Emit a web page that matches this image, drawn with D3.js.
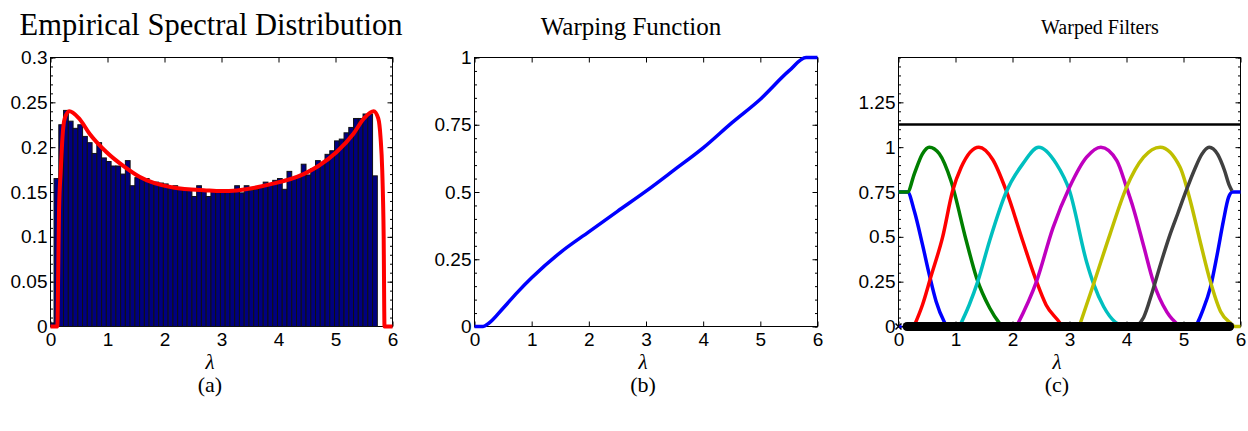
<!DOCTYPE html>
<html>
<head>
<meta charset="utf-8">
<script src="https://cdn.jsdelivr.net/npm/d3@7"></script>
<style>
  body { margin: 0; background: #fff; }
  .tick text { font-family: "Liberation Sans", Arial, sans-serif; font-size: 19px; fill: #000; }
  .serif { font-family: "Liberation Serif", "Times New Roman", serif; fill: #000; }
</style>
</head>
<body>
<div id="chart"></div>
<script>
// ---- data ----
var titles = ["Empirical Spectral Distribution", "Warping Function", "Warped Filters"];
var captions = ["(a)", "(b)", "(c)"];
var xTicks = [0, 1, 2, 3, 4, 5, 6];
var yTicksA = [0, 0.05, 0.1, 0.15, 0.2, 0.25, 0.3];
var yTicksB = [0, 0.25, 0.5, 0.75, 1];
var yTicksC = [0, 0.25, 0.5, 0.75, 1, 1.25];

// histogram (a): first bin left edge, bin width, heights
var histStart = -0.021;
var histWidth = 0.0834;
var histHeights = [0.004, 0,
  0.165, 0.225, 0.241, 0.229, 0.221, 0.225, 0.212, 0.205, 0.193, 0.205,
  0.188, 0.184, 0.179, 0.179, 0.170, 0.185, 0.157, 0.166, 0.165, 0.165,
  0.161, 0.161, 0.160, 0.159, 0.156, 0.157, 0.153, 0.152, 0.152, 0.145,
  0.157, 0.151, 0.145, 0.151, 0.150, 0.150, 0.150, 0.151, 0.157, 0.149,
  0.157, 0.152, 0.153, 0.155, 0.161, 0.158, 0.163, 0.165, 0.153, 0.173,
  0.166, 0.167, 0.181, 0.169, 0.176, 0.185, 0.182, 0.192, 0.196, 0.207,
  0.209, 0.216, 0.222, 0.232, 0.232, 0.237, 0.237, 0.168];

// spectral density (red curve)
var densX = [0, 0.12, 0.135, 0.15, 0.18, 0.21, 0.25, 0.33, 0.5, 0.685, 0.98, 1.3, 1.56, 2.15, 2.73, 3.0,
  3.27, 3.85, 4.44, 4.7, 5.02, 5.315, 5.5, 5.67, 5.75, 5.79, 5.82, 5.845, 5.86, 6.0];
var densY = [0, 0, 0.06, 0.13, 0.174, 0.211, 0.232, 0.240, 0.232, 0.215, 0.1946, 0.178, 0.167, 0.155, 0.1518, 0.151,
  0.1518, 0.1585, 0.17, 0.179, 0.1946, 0.215, 0.232, 0.240, 0.232, 0.211, 0.174, 0.10, 0, 0];

// warping function (b)
var warpX = [0, 0.15, 0.25, 0.5, 0.75, 1.0, 1.5, 2.0, 2.5, 3.0, 3.5, 4.0, 4.5, 5.0, 5.5, 5.8, 6.0];
var warpY = [0, 0, 0.012, 0.068, 0.127, 0.181, 0.275, 0.352, 0.428, 0.503, 0.583, 0.664, 0.757, 0.845, 0.95, 1.0, 1.0];

// warped filters (c)
var blueX = [0, 0.16, 0.276, 0.42, 0.54, 0.66, 0.80, 0.85, 5.18, 5.35, 5.47, 5.59, 5.70, 5.79, 5.86, 6.0];
var blueY = [0.75, 0.75, 0.645, 0.458, 0.29, 0.14, 0.028, 0, 0, 0.10, 0.215, 0.40, 0.589, 0.72, 0.75, 0.75];
var greenX = [0, 0.16, 0.276, 0.42, 0.54, 0.716, 0.92, 1.19, 1.37, 1.6, 1.77, 1.82];
var greenY = [0.75, 0.75, 0.85, 0.963, 1.0, 0.963, 0.813, 0.477, 0.271, 0.103, 0.019, 0];
var redX = [0.27, 0.42, 0.57, 0.775, 0.95, 1.1, 1.41, 1.655, 1.89, 2.18, 2.42, 2.59, 2.83, 2.87];
var redY = [0, 0.12, 0.28, 0.5, 0.757, 0.888, 1.0, 0.93, 0.757, 0.477, 0.252, 0.12, 0.02, 0];
var cyanX = [1.07, 1.24, 1.39, 1.6, 1.89, 2.18, 2.46, 2.77, 3.0, 3.3, 3.42, 3.6, 3.8, 3.95];
var cyanY = [0, 0.12, 0.25, 0.48, 0.75, 0.907, 1.0, 0.907, 0.757, 0.36, 0.24, 0.11, 0.025, 0];
var magentaX = [2.07, 2.42, 2.71, 3.0, 3.3, 3.55, 3.83, 4.0, 4.12, 4.3, 4.47, 4.71, 4.94];
var magentaY = [0, 0.25, 0.55, 0.776, 0.944, 1.0, 0.925, 0.776, 0.66, 0.45, 0.25, 0.08, 0];
var yellowX = [3.17, 3.42, 3.71, 4.0, 4.3, 4.59, 4.94, 5.12, 5.29, 5.47, 5.65, 5.82, 5.9, 6.0];
var yellowY = [0, 0.234, 0.514, 0.776, 0.944, 1.0, 0.888, 0.70, 0.477, 0.252, 0.084, 0.02, 0, 0];
var grayX = [4.18, 4.3, 4.45, 4.6, 4.75, 4.9, 5.05, 5.2, 5.32, 5.45, 5.6, 5.72, 5.8, 5.85];
var grayY = [0, 0.05, 0.19, 0.35, 0.5, 0.63, 0.76, 0.88, 0.96, 1.0, 0.96, 0.87, 0.79, 0.757];
var upperBound = 1.127;          // black horizontal line
var eigRange = [0.15, 5.81];     // eigenvalues marked along zero
var eigZero = 0;                 // the single zero eigenvalue (x marker)

// ---- drawing ----
var svg = d3.select("#chart").append("svg")
    .attr("width", 1248).attr("height", 431);

var boxes = [
  {l: 50.5, r: 392.5, t: 57.5, b: 326.5, ymax: 0.3, yt: yTicksA, minor: 0.01, tx: 211, ty: 35, fs: 30.5, cx: 210},
  {l: 474.5, r: 817.5, t: 57.5, b: 326.5, ymax: 1, yt: yTicksB, minor: 0.05, tx: 631, ty: 35, fs: 25, cx: 643},
  {l: 898.5, r: 1240.5, t: 57.5, b: 326.5, ymax: 1.5, yt: yTicksC, minor: 0.05, tx: 1100, ty: 34, fs: 20, cx: 1057}
];

var P = boxes.map(function(bx, i) {
  var x = d3.scaleLinear().domain([0, 6]).range([bx.l, bx.r]);
  var y = d3.scaleLinear().domain([0, bx.ymax]).range([bx.b, bx.t]);
  var g = svg.append("g");

  var minors = d3.range(0, Math.round(bx.ymax / bx.minor) + 1).map(function(k){ return +(k * bx.minor).toFixed(3); });

  function clean(sel) { sel.select(".domain").remove(); sel.selectAll("line").attr("stroke", "#000"); sel.attr("font-family", null).attr("font-size", null); }

  g.append("g").attr("transform", "translate(0," + bx.b + ")")
    .call(d3.axisBottom(x).tickValues(xTicks).tickSizeInner(-5).tickSizeOuter(0).tickPadding(6).tickFormat(function(d){ return d; }))
    .call(clean);
  g.append("g").attr("transform", "translate(0," + bx.t + ")")
    .call(d3.axisTop(x).tickValues(xTicks).tickSizeInner(-5).tickSizeOuter(0).tickFormat(""))
    .call(clean);
  g.append("g").attr("transform", "translate(" + bx.l + ",0)")
    .call(d3.axisLeft(y).tickValues(bx.yt).tickSizeInner(-5).tickSizeOuter(0).tickPadding(3).tickFormat(function(d){ return String(d); }))
    .call(clean);
  g.append("g").attr("transform", "translate(" + bx.l + ",0)")
    .call(d3.axisLeft(y).tickValues(minors).tickSizeInner(-2.5).tickSizeOuter(0).tickFormat(""))
    .call(clean);
  g.append("g").attr("transform", "translate(" + bx.r + ",0)")
    .call(d3.axisRight(y).tickValues(bx.yt.concat([bx.ymax])).tickSizeInner(-5).tickSizeOuter(0).tickFormat(""))
    .call(clean);
  g.append("g").attr("transform", "translate(" + bx.r + ",0)")
    .call(d3.axisRight(y).tickValues(minors).tickSizeInner(-2.5).tickSizeOuter(0).tickFormat(""))
    .call(clean);

  g.append("rect").attr("x", bx.l).attr("y", bx.t)
    .attr("width", bx.r - bx.l).attr("height", bx.b - bx.t)
    .attr("fill", "none").attr("stroke", "#000").attr("stroke-width", 1);

  svg.append("text").attr("class", "serif").attr("x", bx.tx).attr("y", bx.ty)
    .attr("text-anchor", "middle").style("font-size", bx.fs + "px").text(titles[i]);
  svg.append("text").attr("class", "serif").attr("x", bx.cx).attr("y", 369)
    .attr("text-anchor", "middle").style("font-size", "21px").style("font-style", "italic").text("\u03bb");
  svg.append("text").attr("class", "serif").attr("x", bx.cx).attr("y", 392)
    .attr("text-anchor", "middle").style("font-size", "22px").text(captions[i]);

  return {x: x, y: y, g: g};
});

function pts(xs, ys) { return xs.map(function(v, i){ return [v, ys[i]]; }); }

// (a) histogram + density
var pa = P[0];
pa.g.append("g").selectAll("rect").data(histHeights).enter().append("rect")
  .filter(function(d){ return d > 0; })
  .attr("x", function(d, i){ return pa.x(Math.max(0, histStart + i * histWidth)); })
  .attr("width", function(d, i){ return pa.x(histStart + (i + 1) * histWidth) - pa.x(Math.max(0, histStart + i * histWidth)); })
  .attr("y", function(d){ return pa.y(d); })
  .attr("height", function(d){ return pa.y(0) - pa.y(d); })
  .attr("fill", "#000080").attr("stroke", "#111").attr("stroke-width", 1);

var lineA = d3.line().x(function(d){ return pa.x(d[0]); }).y(function(d){ return pa.y(d[1]); }).curve(d3.curveMonotoneX);
pa.g.append("path").datum(pts(densX, densY)).attr("d", lineA)
  .attr("fill", "none").attr("stroke", "#ff0000").attr("stroke-width", 4).attr("stroke-linejoin", "round");

// (b) warping function
var pb = P[1];
var lineB = d3.line().x(function(d){ return pb.x(d[0]); }).y(function(d){ return pb.y(d[1]); }).curve(d3.curveMonotoneX);
pb.g.append("path").datum(pts(warpX, warpY)).attr("d", lineB)
  .attr("fill", "none").attr("stroke", "#0000ff").attr("stroke-width", 3.5);

// (c) warped filters
var pc = P[2];
var lineC = d3.line().x(function(d){ return pc.x(d[0]); }).y(function(d){ return pc.y(d[1]); }).curve(d3.curveMonotoneX);
var filters = [
  {c: "#0000ff", d: pts(blueX, blueY)},
  {c: "#007f00", d: pts(greenX, greenY)},
  {c: "#ff0000", d: pts(redX, redY)},
  {c: "#00bfbf", d: pts(cyanX, cyanY)},
  {c: "#bf00bf", d: pts(magentaX, magentaY)},
  {c: "#bfbf00", d: pts(yellowX, yellowY)},
  {c: "#404040", d: pts(grayX, grayY)}
];
pc.g.append("g").selectAll("path").data(filters).enter().append("path")
  .attr("d", function(f){ return lineC(f.d); })
  .attr("fill", "none").attr("stroke", function(f){ return f.c; }).attr("stroke-width", 3.5);

pc.g.append("line").attr("x1", pc.x(0)).attr("x2", pc.x(6))
  .attr("y1", pc.y(upperBound)).attr("y2", pc.y(upperBound))
  .attr("stroke", "#000").attr("stroke-width", 2.5);

pc.g.append("line").attr("x1", pc.x(eigRange[0])).attr("x2", pc.x(eigRange[1]))
  .attr("y1", pc.y(0)).attr("y2", pc.y(0))
  .attr("stroke", "#000").attr("stroke-width", 9).attr("stroke-linecap", "round");

var ex = pc.x(eigZero), ey = pc.y(0);
pc.g.append("path")
  .attr("d", "M" + (ex - 3) + "," + (ey - 3) + "L" + (ex + 3) + "," + (ey + 3) + "M" + (ex - 3) + "," + (ey + 3) + "L" + (ex + 3) + "," + (ey - 3))
  .attr("stroke", "#000").attr("stroke-width", 1.5);
pc.g.append("circle").attr("cx", ex + 2).attr("cy", ey).attr("r", 1.5).attr("fill", "#0000ff");
</script>
</body>
</html>
